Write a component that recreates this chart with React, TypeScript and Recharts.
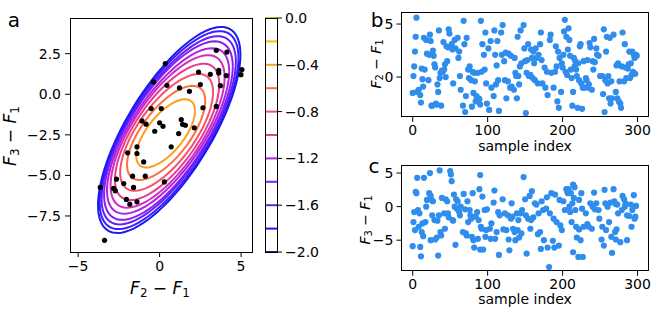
import React from 'react';
import { ScatterChart, Scatter, XAxis, YAxis } from 'recharts';

const FONT = '"DejaVu Sans", Verdana, sans-serif';

// panel a: black points, (F2 - F1, F3 - F1)
const pairF21 = [0.35, -0.37, 0.45, 3.48, 4.13, 5.05, 4.99, 2.39, 3.11, 3.63, 3.63, 4.09, 2.5, 3.73, 1.22, 1.83, -0.52, 0.1, 2.66, 3.48, -1.08, -0.83, 0.0, 0.21, 1.33, 1.41, 1.58, 2.13, -0.3, 1.17, 0.71, -1.39, -1.39, -1.96, -0.98, -0.88, -1.66, -1.6, -2.65, -2.2, -2.82, -2.72, -3.64, -2.04, -1.83, -1.39, 0.29, -3.38];
const pairF31 = [1.89, 0.76, 0.55, 2.71, 2.6, 1.52, 1.21, 1.37, 1.23, 1.48, 1.31, 1.15, 0.6, 0.53, 0.39, 0.18, -0.88, -0.88, -0.83, -0.75, -1.64, -1.84, -1.76, -1.97, -1.56, -1.85, -1.91, -2.07, -2.28, -2.42, -3.24, -3.24, -3.65, -3.61, -4.17, -5.05, -5.05, -5.74, -5.23, -5.5, -5.8, -5.95, -5.74, -6.48, -6.77, -6.63, -5.4, -9.0];

// panel a: contour lines (ellipses of a fitted gaussian), innermost first
const contourLevels = [-0.4, -0.6, -0.8, -1.0, -1.2, -1.4, -1.6, -1.8, -2.0, -2.2];
const contourColors = ['#ff9d1e', '#ff6f3c', '#f5506c', '#e83c92', '#d12cbc', '#b022e2', '#8a1ff4', '#631efb', '#3a1eff', '#1a1af5'];
const contourHalfX = [1.8, 2.4, 2.85, 3.2, 3.5, 3.75, 3.95, 4.12, 4.26, 4.37];
const contourHalfY = [2.1, 2.9, 3.6, 4.2, 4.7, 5.1, 5.5, 5.8, 6.1, 6.35];
const contourRho = [0.66, 0.68, 0.69, 0.7, 0.71, 0.72, 0.72, 0.73, 0.73, 0.73];
const contourCenterX = [0.37, 0.4, 0.43, 0.46, 0.49, 0.52, 0.54, 0.56, 0.58, 0.59];
const contourCenterY = [-2.41, -2.38, -2.35, -2.32, -2.29, -2.26, -2.24, -2.22, -2.21, -2.2];

// colorbar
const colorbarLevels = [0.0, -0.2, -0.4, -0.6, -0.8, -1.0, -1.2, -1.4, -1.6, -1.8, -2.0];
const colorbarColors = ['#b8b820', '#f2c400', '#ff9d1e', '#ff6f3c', '#f5506c', '#e83c92', '#b022e2', '#8a1ff4', '#631efb', '#1a1af5', '#1a1a8a'];
const colorbarTicks = [0, -0.4, -0.8, -1.2, -1.6, -2.0];

// panel b: [sample index, F2 - F1]
const samplesF21: [number, number][] = [
  [0, -1.5], [1, 0.1], [2, 1.0], [3, 2.4], [4, 3.8], [5, 5.6], [6, -1.4], [8, -1.2], [10, -1.7], [11, -2.4], [12, 0.8], [13, -0.2], [14, -0.9], [15, 3.7], [16, 0.7], [18, 3.5], [19, 2.2], [21, -0.3], [23, 4.0], [22, 2.1], [24, 3.4], [25, -2.7], [27, 2.5], [28, 2.0], [29, 1.2], [26, -2.7], [30, 0.9], [31, -2.5], [32, -2.6], [33, -0.7], [34, -1.4], [35, 4.4], [36, -0.1], [37, 0.4], [38, -2.7], [39, 0.6], [40, 0.5], [41, 3.3], [42, 0.7], [43, 1.2], [44, 0.0], [45, 2.9], [46, 1.5], [47, 2.8], [48, 4.5], [49, 4.1], [52, 3.1], [53, 2.6], [54, -0.6], [56, 3.5], [57, 2.7], [60, 3.7], [61, 1.8], [62, 2.4], [63, 0.1], [64, -1.2], [67, -2.7], [68, 5.3], [69, 3.1], [70, -3.3], [71, -1.8], [72, 3.7], [74, 0.7], [75, -0.1], [76, 1.0], [78, -0.3], [79, -2.8], [80, 0.5], [81, -1.5], [82, 0.4], [83, -0.4], [84, -2.3], [85, -1.8], [87, 0.4], [88, -2.0], [89, -2.1], [90, -2.6], [91, 5.3], [92, 0.5], [93, 3.1], [95, 2.1], [96, 0.7],
  [97, 4.2], [120, 4.9], [109, 4.4], [118, 4.2], [140, 3.8], [144, 4.4], [148, 4.9], [171, 4.2], [184, 4.0], [183, 3.5], [203, 5.4], [202, 4.3], [205, 3.8], [104, 3.4], [113, 3.4], [101, 2.7], [110, 2.1], [119, 2.1], [124, 2.3], [128, 2.2], [131, 2.0], [136, 1.8], [122, 1.5], [112, 1.1], [149, 2.7], [154, 3.1], [158, 2.6], [161, 2.4], [164, 2.7], [170, 3.1], [168, 2.1], [165, 1.8], [159, 1.8], [153, 1.6], [150, 1.5], [145, 1.3], [143, 1.0], [162, 1.3], [172, 1.6], [176, 0.9], [179, 0.5], [185, 0.4], [190, 0.5], [192, 1.0], [196, 1.8], [199, 1.3], [200, 0.9], [204, 0.5], [206, 0.2], [191, 2.9], [194, 2.4], [201, 2.1], [98, -0.6], [105, -1.0], [111, -0.7], [108, -1.8], [114, -0.3], [123, -0.3], [127, -0.4], [132, -0.9], [135, -1.2], [130, -1.0], [139, -2.0], [125, -2.0], [141, 0.1], [142, -0.7], [163, -0.3], [167, -0.6], [173, -0.6], [177, -1.0], [180, -1.7], [188, -1.0], [193, -2.3], [195, -2.9], [198, -1.4], [99, -2.5], [102, -3.1], [115, -3.2], [151, -3.4], [155, 0.1], [160, -0.1], [157, 0.2], [152, 0.4], [137, 0.4], [138, 0.1],
  [208, 4.6], [209, 3.5], [207, 2.6], [210, 2.0], [211, 0.7], [212, -0.1], [214, -1.4], [213, -2.7], [220, -2.9], [226, -3.0], [224, 3.1], [223, 2.9], [236, 3.2], [237, 2.8], [242, 3.6], [245, 2.7], [246, 2.1], [248, 2.0], [215, 1.8], [217, 1.5], [221, 1.3], [228, 1.5], [233, 1.6], [240, 1.5], [243, 1.4], [216, 1.0], [218, 0.7], [219, 0.1], [222, -0.3], [225, -0.6], [227, -1.0], [229, -1.0], [234, -1.0], [235, -0.7], [239, -1.2], [231, -0.1], [232, -0.3], [241, 0.7], [250, 0.1], [253, 0.1], [257, -0.3], [260, -0.6], [261, 0.1], [265, -0.4], [276, -0.4], [282, -0.4], [285, -0.1], [290, -0.1], [292, 0.2], [294, 0.5], [297, 0.3], [255, 4.5], [259, 3.8], [263, 3.7], [268, 4.0], [280, 4.2], [283, 3.1], [258, 2.4], [272, 1.1], [274, 1.3], [279, 1.0], [284, 0.9], [287, 0.8], [288, 1.2], [291, 1.3], [289, 2.4], [293, 2.4], [295, 2.1], [298, 2.1], [299, 2.0], [296, 1.8], [254, -1.6], [264, -2.5], [266, -2.0], [271, -1.4], [273, -2.0], [275, -2.3], [277, -2.5], [278, -2.9], [256, -3.3], [262, -2.0],
];

// panel c: [sample index, F3 - F1]
const samplesF31: [number, number][] = [
  [6, 4.3], [15, 4.3], [23, 5.0], [36, 5.4], [50, 5.3], [51, 4.8], [52, 3.8], [90, 4.7], [4, 2.2], [5, 2.0], [22, 2.0], [24, 1.6], [19, 1.0], [25, 1.0], [27, 0.8], [18, 0.0], [39, 1.3], [44, 1.1], [46, 0.8], [55, 1.8], [58, 1.1], [60, 0.8], [56, 0.0], [64, 0.0], [68, 1.9], [73, 0.8], [80, 2.0], [89, 2.6], [93, 1.5], [96, -0.5], [2, -0.8], [7, -0.5], [9, -1.0], [1, -2.3], [3, -3.5], [8, -3.0], [13, -2.5], [12, -3.8], [14, -4.4], [17, -2.3], [26, -1.3], [29, -2.0], [33, -2.1], [35, -1.3], [37, -3.8], [38, -4.3], [32, -4.6], [30, -4.9], [24, -5.0], [42, -1.0], [47, -1.0], [48, -1.6], [43, -3.3], [53, -2.0], [54, -2.1], [59, -0.3], [62, -0.8], [63, -1.3], [67, -3.8], [71, -4.0], [72, -4.3], [74, -2.3], [77, -1.3], [78, -1.8], [79, -4.5], [81, -5.0], [87, -4.8], [84, -1.5], [86, -0.8], [88, -2.0], [91, -3.0], [92, -3.3], [90, -6.4], [94, -6.4], [82, -6.1], [57, -5.7], [0, -5.9], [10, -6.0], [11, -7.4], [34, -7.3], [70, -0.4], [76, -0.5],
  [148, 4.4], [109, 2.4], [120, 1.1], [99, -0.4], [108, 0.6], [132, 0.5], [150, 1.1], [156, 1.6], [159, 2.3], [163, 0.5], [165, 0.3], [172, 0.8], [179, 1.4], [185, 2.0], [190, 1.8], [196, 1.0], [201, 0.8], [205, 2.6], [207, 2.0], [114, -0.8], [116, -1.3], [123, -1.0], [127, -1.3], [131, -1.8], [133, -1.5], [139, -1.0], [141, -2.0], [144, -1.0], [146, -0.5], [151, -1.3], [154, -1.8], [158, -2.0], [161, -1.6], [168, -1.0], [174, -0.5], [178, -0.3], [183, -1.0], [188, -1.8], [192, -2.3], [197, -2.8], [199, -3.5], [203, -0.5], [105, -2.5], [103, -3.3], [98, -3.5], [97, -4.5], [104, -4.8], [110, -4.8], [112, -3.8], [121, -3.4], [125, -3.5], [134, -3.3], [136, -3.8], [140, -3.5], [128, -4.9], [137, -5.0], [142, -4.6], [145, -4.0], [157, -3.3], [167, -4.1], [170, -3.8], [175, -5.0], [171, -6.3], [180, -6.1], [187, -5.1], [189, -6.1], [195, -5.8], [115, -7.2], [129, -6.5], [152, -7.0], [182, -9.0],
  [214, 3.3], [216, 2.9], [208, 2.6], [206, 2.3], [211, 2.0], [225, 2.0], [242, 2.1], [256, 2.5], [268, 2.6], [295, 1.7], [280, 1.6], [282, 1.1], [284, 0.5], [291, 0.3], [298, 0.1], [293, -0.5], [296, -1.8], [297, -1.5], [289, -1.4], [292, -3.0], [215, 1.3], [222, 1.0], [209, 0.0], [210, -0.8], [213, 0.5], [217, -0.5], [226, -0.3], [231, -1.0], [237, 0.5], [240, 0.0], [243, -0.4], [245, 0.5], [248, -0.5], [249, -1.8], [257, 0.5], [260, 0.0], [264, 0.6], [269, 0.8], [271, 0.4], [274, -1.0], [279, -0.5], [283, 0.0], [286, -1.3], [273, 0.3], [212, -2.3], [218, -3.0], [222, -3.4], [228, -3.0], [233, -2.6], [235, -3.0], [239, -3.3], [253, -3.0], [258, -3.5], [262, -2.3], [270, -3.8], [272, -3.4], [219, -4.6], [224, -5.0], [252, -4.9], [255, -5.8], [265, -4.5], [271, -4.9], [277, -5.3], [286, -5.0], [266, -6.9], [214, -6.8], [221, -7.5], [227, -7.5],
];

const minus = (s: string) => s.replace('-', '\u2212');
const fmt1 = (v: number) => minus(Math.abs(v) < 1e-9 ? '0.0' : v.toFixed(1));
const fmt0 = (v: number) => minus(String(v));

const tickStyle = { fill: '#000', fontSize: 14, fontFamily: FONT };
const tickLine = { stroke: '#000', strokeWidth: 1 };

const ellipse = (i: number) => {
  const hx = contourHalfX[i];
  const hy = contourHalfY[i];
  const rho = contourRho[i];
  const s = Math.sqrt(1 - rho * rho);
  const pts = [];
  for (let k = 0; k <= 90; k++) {
    const t = (k / 90) * Math.PI * 2;
    pts.push({
      x: contourCenterX[i] + hx * Math.cos(t),
      y: contourCenterY[i] + hy * (rho * Math.cos(t) + s * Math.sin(t)),
    });
  }
  return pts;
};

const Frame = ({ left, top, width, height }: { left: number; top: number; width: number; height: number }) => (
  <div style={{ position: 'absolute', left: left - 0.5, top: top - 0.5, width: width + 1, height: height + 1, border: '1px solid #000', boxSizing: 'border-box', pointerEvents: 'none' }} />
);

const Txt = ({ x, y, size, rotate, children }: any) => (
  <div style={{ position: 'absolute', left: x, top: y, transform: `translate(-50%, -50%)${rotate ? ' rotate(-90deg)' : ''}`, whiteSpace: 'nowrap', fontFamily: FONT, fontSize: size, lineHeight: 1, color: '#000' }}>
    {children}
  </div>
);

const Diff = ({ a, b }: { a: string; b: string }) => (
  <span>
    <i>F</i><span style={{ fontSize: '0.7em', verticalAlign: '-0.25em' }}>{a}</span>
    {' \u2212 '}
    <i>F</i><span style={{ fontSize: '0.7em', verticalAlign: '-0.25em' }}>{b}</span>
  </span>
);

const Dot = (r: number, color: string) => (p: any) => <circle cx={p.cx} cy={p.cy} r={r} fill={color} />;
const NoShape = () => <g />;

const PanelA = () => {
  const pts = pairF21.map((x, i) => ({ x, y: pairF31[i] }));
  return (
    <div style={{ position: 'absolute', left: 0, top: 0 }}>
      <ScatterChart width={260} height={300} margin={{ top: 18, right: 8, bottom: 0, left: 0 }}>
        <XAxis type="number" dataKey="x" domain={[-5.5, 5.67]} ticks={[-5, 0, 5]} tickFormatter={fmt0} height={48} axisLine={false} tickSize={5} tickMargin={4} tick={tickStyle} tickLine={tickLine} allowDataOverflow interval={0} />
        <YAxis type="number" dataKey="y" domain={[-9.72, 4.7]} ticks={[-7.5, -5, -2.5, 0, 2.5]} tickFormatter={fmt1} width={70} axisLine={false} tickSize={5} tickMargin={4} tick={tickStyle} tickLine={tickLine} allowDataOverflow interval={0} />
        {contourLevels.map((lv, i) => (
          <Scatter key={lv} data={ellipse(i)} fill={contourColors[i]} line={{ stroke: contourColors[i], strokeWidth: 2 }} lineType="joint" shape={NoShape} isAnimationActive={false} />
        ))}
        <Scatter data={pts} fill="#000" shape={Dot(2.6, '#000')} isAnimationActive={false} />
      </ScatterChart>
    </div>
  );
};

const Colorbar = () => {
  const pts = colorbarLevels.map((y, i) => ({ x: 0.5, y, c: colorbarColors[i] }));
  const Bar = (p: any) => <line x1={p.cx - 6} x2={p.cx + 6} y1={p.cy} y2={p.cy} stroke={p.payload.c} strokeWidth={2} />;
  return (
    <div style={{ position: 'absolute', left: 265, top: 0 }}>
      <ScatterChart width={60} height={275} margin={{ top: 18, right: 0, bottom: 23, left: 0 }}>
        <XAxis type="number" dataKey="x" domain={[0, 1]} hide />
        <YAxis type="number" dataKey="y" orientation="right" domain={[-2, 0]} ticks={colorbarTicks} tickFormatter={fmt1} width={48} axisLine={false} tickSize={5} tickMargin={3} tick={{ ...tickStyle, textAnchor: 'start' }} tickLine={tickLine} interval={0} />
        <Scatter data={pts} shape={Bar} isAnimationActive={false} />
      </ScatterChart>
    </div>
  );
};

const IndexPanel = ({ top, height, plotTop, plotBottom, data, domain, ticks }: any) => {
  const pts = data.map(([x, y]: [number, number]) => ({ x, y }));
  return (
    <div style={{ position: 'absolute', left: 340, top }}>
      <ScatterChart width={320} height={height} margin={{ top: plotTop - top, right: 12, bottom: 0, left: 0 }}>
        <XAxis type="number" dataKey="x" domain={[-14.95, 313.95]} ticks={[0, 100, 200, 300]} height={height - (plotBottom - top)} axisLine={false} tickSize={5} tickMargin={3} tick={tickStyle} tickLine={tickLine} allowDataOverflow interval={0} />
        <YAxis type="number" dataKey="y" domain={domain} ticks={ticks} tickFormatter={fmt0} width={61.5} axisLine={false} tickSize={5} tickMargin={3} tick={tickStyle} tickLine={tickLine} allowDataOverflow interval={0} />
        <Scatter data={pts} shape={Dot(3.1, '#2f8ded')} isAnimationActive={false} />
      </ScatterChart>
    </div>
  );
};

export default function App() {
  return (
    <div style={{ position: 'absolute', left: 0, top: 0, width: 665, height: 320, background: '#fff', overflow: 'hidden', fontFamily: FONT }}>
      <PanelA />
      <Frame left={70} top={18} width={182} height={234} />
      <Colorbar />
      <Frame left={265} top={18} width={12} height={234} />
      <IndexPanel top={0} height={160} plotTop={12.7} plotBottom={117} data={samplesF21} domain={[-3.77, 6.07]} ticks={[0, 5]} />
      <Frame left={401.5} top={12.7} width={246.5} height={104.3} />
      <IndexPanel top={150} height={170} plotTop={165.7} plotBottom={270.7} data={samplesF31} domain={[-9.55, 6.1]} ticks={[-5, 0, 5]} />
      <Frame left={401.5} top={165.7} width={246.5} height={105} />

      <Txt x={12} y={136} size={17} rotate><Diff a="3" b="1" /></Txt>
      <Txt x={160} y={290} size={17}><Diff a="2" b="1" /></Txt>
      <Txt x={376.5} y={64} size={14} rotate><Diff a="2" b="1" /></Txt>
      <Txt x={366} y={220} size={14} rotate><Diff a="3" b="1" /></Txt>
      <Txt x={525} y={146} size={14}>sample index</Txt>
      <Txt x={525} y={299} size={14}>sample index</Txt>
      <Txt x={14} y={20} size={20}>a</Txt>
      <Txt x={377} y={20} size={20}>b</Txt>
      <Txt x={374} y={166} size={20}>c</Txt>
    </div>
  );
}
